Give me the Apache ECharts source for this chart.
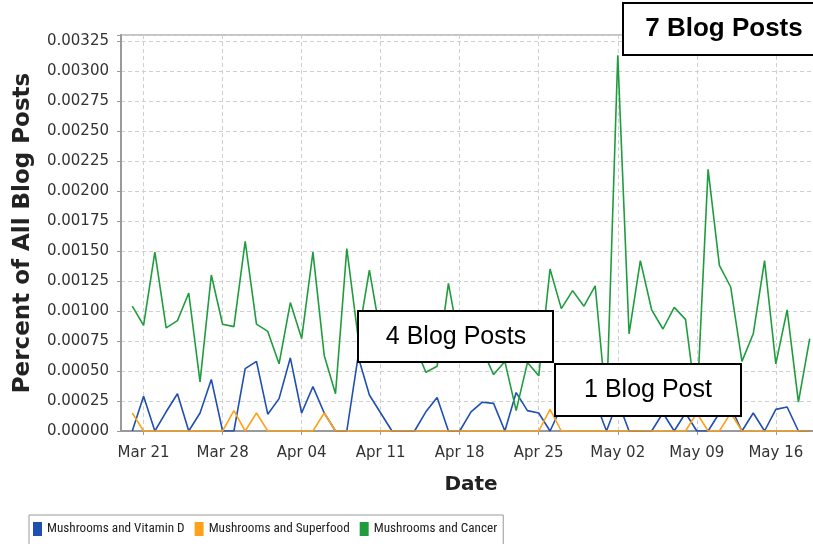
<!DOCTYPE html>
<html>
<head>
<meta charset="utf-8">
<script src="https://cdn.jsdelivr.net/npm/echarts@6/dist/echarts.min.js"></script>
<style>
html,body{margin:0;padding:0;background:#fff;}
#chart{width:813px;height:544px;}
</style>
</head>
<body>
<div id="chart"></div>
<script>
// Daily data, Mar 20 .. May 19 (61 days)
const firstDay = {month: 2, day: 20};
const seriesNames = ['Mushrooms and Vitamin D', 'Mushrooms and Superfood', 'Mushrooms and Cancer'];
const vitaminD = [
  0, 0.00029, 0, 0.00016, 0.00031, 0, 0.00015, 0.00043, 0, 0,
  0.00052, 0.00058, 0.00014, 0.00027, 0.00061, 0.00015, 0.00037, 0.00015, 0, 0,
  0.00062, 0.00030, 0.00015, 0, 0, 0, 0.00016, 0.00028, 0, 0,
  0.00016, 0.00024, 0.00023, 0, 0.00032, 0.00017, 0.00015, 0, 0.00020, 0.00015,
  0.00030, 0.00025, 0, 0.00025, 0, 0, 0, 0.00015, 0, 0.00015,
  0, 0, 0.00015, 0.00020, 0, 0.00015, 0, 0.00018, 0.00020, 0,
  0
];
const superfood = [
  0.00015, 0, 0, 0, 0, 0, 0, 0, 0, 0.00017,
  0, 0.00015, 0, 0, 0, 0, 0, 0.00015, 0, 0,
  0, 0, 0, 0, 0, 0, 0, 0, 0, 0,
  0, 0, 0, 0, 0, 0, 0, 0.00018, 0, 0,
  0, 0, 0, 0, 0, 0, 0, 0, 0, 0,
  0.00015, 0, 0, 0.00015, 0, 0, 0, 0, 0, 0,
  0
];
const cancer = [
  0.00104, 0.00088, 0.00149, 0.00086, 0.00092, 0.00115, 0.00041, 0.00130, 0.00089, 0.00087,
  0.00158, 0.00089, 0.00083, 0.00056, 0.00107, 0.00077, 0.00149, 0.00063, 0.00031, 0.00152,
  0.00078, 0.00134, 0.00080, 0.00068, 0.00088, 0.00072, 0.00049, 0.00054, 0.00123, 0.00072,
  0.00085, 0.00068, 0.00047, 0.00058, 0.00017, 0.00057, 0.00046, 0.00135, 0.00102, 0.00117,
  0.00104, 0.00121, 0.00020, 0.00313, 0.00081, 0.00142, 0.00101, 0.00085, 0.00103, 0.00093,
  0.00020, 0.00218, 0.00138, 0.00120, 0.00058, 0.00081, 0.00142, 0.00056, 0.00101, 0.00024,
  0.00077
];
const annotations = [
  {text: '7 Blog Posts', bold: true},
  {text: '4 Blog Posts', bold: false},
  {text: '1 Blog Post', bold: false}
];

// axis categories: one padding day before and after the data
const monthNames = ['Jan','Feb','Mar','Apr','May','Jun','Jul','Aug','Sep','Oct','Nov','Dec'];
const base = Date.UTC(2011, firstDay.month, firstDay.day);
const categories = [];
for (let i = -1; i <= cancer.length; i++) {
  const d = new Date(base + i * 86400000);
  categories.push(monthNames[d.getUTCMonth()] + ' ' + String(d.getUTCDate()).padStart(2, '0'));
}
const pad = arr => [null].concat(arr);
const weekly = (idx) => (idx % 7) === 2;

const chart = echarts.init(document.getElementById('chart'));
const tickFont = '"DejaVu Sans", sans-serif';
chart.setOption({
  animation: false,
  backgroundColor: '#ffffff',
  grid: {left: 121, top: 35, width: 700, height: 396, outerBoundsMode: 'none', containLabel: false, show: true, borderColor: '#c4c4c4', borderWidth: 2, backgroundColor: 'transparent'},
  legend: {
    left: 29, top: 515,
    padding: [7, 6, 9, 4],
    borderColor: '#9a9a9a', borderWidth: 1, borderRadius: 0,
    itemWidth: 9, itemHeight: 14, itemGap: 10,
    icon: 'rect',
    textStyle: {fontFamily: '"Roboto Condensed", "Liberation Sans", sans-serif', fontSize: 13.2, color: '#222'},
    data: seriesNames
  },
  xAxis: {
    type: 'category',
    data: categories,
    boundaryGap: false,
    name: 'Date',
    nameLocation: 'middle',
    nameGap: 44,
    nameTextStyle: {fontFamily: tickFont, fontWeight: 'bold', fontSize: 20, color: '#222'},
    axisLine: {lineStyle: {color: '#9a9a9a', width: 2}},
    axisTick: {interval: (i) => weekly(i), length: 4, lineStyle: {color: '#9a9a9a'}},
    axisLabel: {interval: (i) => weekly(i), margin: 15, fontFamily: tickFont, fontSize: 15, color: '#333'},
    splitLine: {show: true, interval: (i) => weekly(i), lineStyle: {color: '#cfcfcf', type: [4, 3], width: 1}}
  },
  yAxis: {
    type: 'value',
    min: 0, max: 0.0033, interval: 0.00025,
    name: 'Percent of All Blog Posts',
    nameLocation: 'middle',
    nameRotate: 90,
    nameGap: 86,
    nameTextStyle: {fontFamily: tickFont, fontWeight: 'bold', fontSize: 23, color: '#222'},
    axisLine: {show: true, lineStyle: {color: '#9a9a9a', width: 2}},
    axisTick: {show: true, length: 4, lineStyle: {color: '#9a9a9a'}},
    axisLabel: {
      margin: 12, fontFamily: tickFont, fontSize: 15, color: '#333',
      formatter: (v) => {
        const k = v / 0.00025;
        return Math.abs(k - Math.round(k)) > 1e-6 ? '' : v.toFixed(5);
      }
    },
    splitLine: {show: true, lineStyle: {color: '#cfcfcf', type: [4, 3], width: 1}}
  },
  series: [
    {name: seriesNames[0], type: 'line', data: pad(vitaminD), showSymbol: false, symbol: 'none', color: '#1f4fb0', lineStyle: {width: 1.6}},
    {name: seriesNames[1], type: 'line', data: pad(superfood), showSymbol: false, symbol: 'none', color: '#ffa21a', lineStyle: {width: 1.6}},
    {name: seriesNames[2], type: 'line', data: pad(cancer), showSymbol: false, symbol: 'none', color: '#1f9d3e', lineStyle: {width: 1.6}}
  ],
  graphic: [
    {type: 'rect', z: 100, shape: {x: 623, y: 3, width: 204, height: 52}, style: {fill: '#fff', stroke: '#000', lineWidth: 2}},
    {type: 'text', z: 101, x: 724, y: 29, style: {text: annotations[0].text, font: 'bold 26px "Liberation Sans", Arial, sans-serif', fill: '#000', align: 'center', verticalAlign: 'middle', textAlign: 'center', textVerticalAlign: 'middle'}},
    {type: 'rect', z: 100, shape: {x: 358, y: 311, width: 195, height: 51}, style: {fill: '#fff', stroke: '#000', lineWidth: 2}},
    {type: 'text', z: 101, x: 456, y: 337, style: {text: annotations[1].text, font: '25px "Liberation Sans", Arial, sans-serif', fill: '#000', align: 'center', verticalAlign: 'middle', textAlign: 'center', textVerticalAlign: 'middle'}},
    {type: 'rect', z: 100, shape: {x: 555, y: 364, width: 186, height: 52}, style: {fill: '#fff', stroke: '#000', lineWidth: 2}},
    {type: 'text', z: 101, x: 648, y: 390, style: {text: annotations[2].text, font: '25px "Liberation Sans", Arial, sans-serif', fill: '#000', align: 'center', verticalAlign: 'middle', textAlign: 'center', textVerticalAlign: 'middle'}}
  ]
});
</script>
</body>
</html>
